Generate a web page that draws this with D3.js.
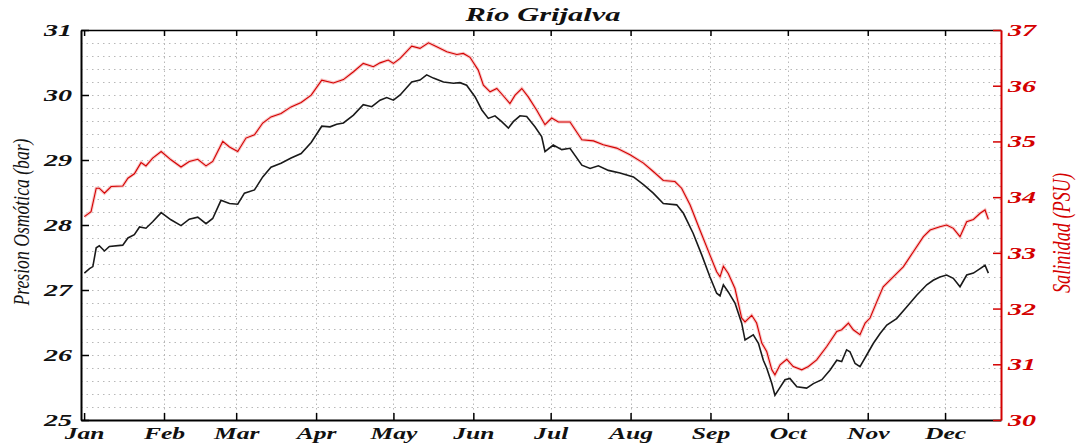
<!DOCTYPE html>
<html lang="en">
<head>
<meta charset="utf-8">
<title>Río Grijalva</title>
<script src="https://d3js.org/d3.v7.min.js"></script>
<style>
  body { margin: 0; background: #fff; }
  svg { display: block; background: #fff; }
  text { font-family: "Liberation Serif", "DejaVu Serif", serif; }
  .lbl { font-weight: bold; font-style: italic; }
</style>
</head>
<body>
<script>
// month ticks (day of year) and labels
var months = ["Jan","Feb","Mar","Apr","May","Jun","Jul","Aug","Sep","Oct","Nov","Dec"];
var monthDays = [0,31,59,90,120,151,181,212,243,273,304,334];
var leftTicks = [25,26,27,28,29,30,31];
var rightTicks = [30,31,32,33,34,35,36,37];

// osmotic pressure (bar)
var osmoDay = [0.1,2.1,3.4,4.7,5.9,7.9,9.8,15.0,17.0,19.5,21.5,24.0,26.6,29.9,33.7,37.6,40.8,44.1,47.3,49.9,53.1,56.4,59.6,62.2,66.1,69.3,72.5,76.4,80.3,84.2,88.1,92.2,95.4,98.0,100.6,104.5,108.3,111.6,114.8,117.4,120.0,122.6,127.1,130.3,132.9,135.5,139.4,143.3,145.8,148.4,151.7,154.3,156.8,159.4,162.0,164.6,166.5,169.1,171.7,174.9,177.5,178.8,182.0,185.3,188.5,193.1,196.3,199.5,203.4,207.9,213.1,217.0,220.8,224.7,229.9,232.5,236.3,239.6,242.8,245.4,246.7,248.0,249.9,252.5,255.1,256.4,259.6,261.6,263.5,264.8,266.8,268.0,269.3,271.9,273.8,276.5,280.3,282.9,286.2,289.4,292.0,293.9,295.8,297.1,299.1,301.0,303.6,306.2,308.8,311.4,315.2,319.1,323.0,326.9,329.4,332.0,334.6,337.2,339.8,342.4,345.0,347.6,349.5,350.8];
var osmoVal = [27.26,27.33,27.36,27.65,27.68,27.60,27.67,27.69,27.80,27.85,27.97,27.95,28.05,28.19,28.08,27.99,28.09,28.12,28.02,28.10,28.38,28.33,28.32,28.49,28.54,28.74,28.89,28.95,29.03,29.10,29.27,29.52,29.51,29.55,29.57,29.69,29.85,29.82,29.92,29.96,29.92,30.00,30.20,30.23,30.31,30.26,30.20,30.18,30.19,30.15,29.97,29.77,29.64,29.68,29.59,29.49,29.59,29.68,29.67,29.51,29.36,29.13,29.23,29.16,29.18,28.92,28.87,28.91,28.84,28.80,28.74,28.62,28.49,28.33,28.31,28.18,27.87,27.54,27.20,26.95,26.91,27.08,26.97,26.80,26.49,26.23,26.31,26.18,25.92,25.80,25.56,25.38,25.46,25.62,25.64,25.51,25.49,25.56,25.62,25.77,25.92,25.90,26.08,26.05,25.87,25.82,26.00,26.18,26.33,26.46,26.56,26.74,26.92,27.08,27.15,27.20,27.23,27.18,27.05,27.23,27.26,27.33,27.38,27.26];

// salinity (PSU)
var salDay = [0.1,2.7,4.7,5.9,7.9,10.5,15.0,17.0,19.5,22.1,24.0,26.6,29.9,33.7,37.6,40.8,44.1,47.3,49.9,53.8,56.4,59.6,62.8,66.1,69.3,72.5,76.4,80.3,84.2,88.1,92.2,96.7,100.6,104.5,108.3,112.2,114.8,118.0,120.0,122.6,127.1,130.3,133.6,136.8,140.7,144.6,147.1,149.7,152.9,154.9,157.5,160.1,162.6,165.2,167.2,169.8,172.3,175.6,178.8,181.4,184.0,188.5,193.1,197.6,201.4,206.6,211.8,217.0,220.8,224.7,229.2,231.8,235.1,238.9,242.8,245.4,246.7,248.0,249.9,252.5,255.1,256.4,259.0,260.9,262.9,264.8,266.8,268.0,270.0,272.6,275.1,278.4,281.0,284.2,288.1,292.0,293.9,296.5,298.4,301.0,303.0,304.9,307.5,310.0,313.9,317.8,321.7,325.6,328.2,332.0,334.6,337.2,339.8,342.4,345.0,347.6,349.5,350.8];
var salVal = [33.65,33.74,34.16,34.16,34.07,34.19,34.20,34.34,34.42,34.62,34.56,34.70,34.82,34.67,34.54,34.64,34.68,34.56,34.64,35.00,34.90,34.82,35.06,35.12,35.33,35.44,35.50,35.62,35.70,35.83,36.10,36.05,36.11,36.25,36.40,36.34,36.41,36.46,36.40,36.49,36.71,36.67,36.77,36.70,36.61,36.56,36.58,36.51,36.28,36.01,35.89,35.95,35.82,35.68,35.83,35.95,35.80,35.56,35.30,35.42,35.35,35.35,35.03,35.01,34.94,34.88,34.76,34.61,34.46,34.30,34.28,34.16,33.86,33.41,32.96,32.66,32.57,32.76,32.63,32.36,31.83,31.76,31.88,31.74,31.38,31.23,30.90,30.81,30.99,31.09,30.96,30.90,30.96,31.08,31.32,31.59,31.62,31.74,31.62,31.53,31.74,31.83,32.12,32.39,32.57,32.75,33.02,33.29,33.41,33.47,33.50,33.44,33.29,33.56,33.60,33.71,33.77,33.60];

var width = 1078, height = 443;
var plotLeft = 81, plotRight = 1001, plotTop = 30, plotBottom = 420;
var red = "#d40000";

var svg = d3.select("body").append("svg")
    .attr("width", width)
    .attr("height", height);

// the source picture is stretched sideways, so widen the labels the same way
function widen(sel, k) {
    sel.each(function() {
        var len = this.getComputedTextLength();
        d3.select(this).attr("textLength", len * k).attr("lengthAdjust", "spacingAndGlyphs");
    });
}

var x = d3.scaleLinear().domain([-1.2, 355.7]).range([plotLeft, plotRight]);
var yL = d3.scaleLinear().domain([25, 31]).range([plotBottom, plotTop]);
var yR = d3.scaleLinear().domain([30, 37]).range([plotBottom, plotTop]);

// dotted grid
var minor = d3.range(25, 31.001, 0.2);
svg.append("g").selectAll("line")
    .data(minor.slice(1, -1))
    .enter().append("line")
    .attr("x1", plotLeft).attr("x2", plotRight)
    .attr("y1", function(d) { return Math.round(yL(d)) + 0.5; })
    .attr("y2", function(d) { return Math.round(yL(d)) + 0.5; })
    .attr("stroke", "#b8b8b8")
    .attr("stroke-width", 1)
    .attr("stroke-dasharray", "1.5,4");

svg.append("g").selectAll("line")
    .data(monthDays.slice(1))
    .enter().append("line")
    .attr("y1", plotTop).attr("y2", plotBottom)
    .attr("x1", function(d) { return Math.round(x(d)) + 0.5; })
    .attr("x2", function(d) { return Math.round(x(d)) + 0.5; })
    .attr("stroke", "#b8b8b8")
    .attr("stroke-width", 1)
    .attr("stroke-dasharray", "1.5,3");

// axes
var xBottom = d3.axisBottom(x).tickValues(monthDays).tickFormat(function(d, i) { return months[i]; })
    .tickSizeInner(-7).tickSizeOuter(0).tickPadding(8);
var gx = svg.append("g").attr("transform", "translate(0," + plotBottom + ")").call(xBottom);
gx.select(".domain").attr("stroke-width", 2);
gx.selectAll(".tick line").attr("stroke-width", 1.5);
gx.selectAll("text").attr("class", "lbl").style("font-size", "16px").attr("fill", "#111").call(widen, 1.6);

var xTop = d3.axisTop(x).tickValues(monthDays).tickFormat("").tickSizeInner(-6).tickSizeOuter(0);
var gt = svg.append("g").attr("transform", "translate(0," + plotTop + ")").call(xTop);
gt.select(".domain").attr("stroke-width", 1.5);
gt.selectAll(".tick line").attr("stroke-width", 1.5);

var axL = d3.axisLeft(yL).tickValues(leftTicks).tickFormat(d3.format("d"))
    .tickSizeInner(-8).tickSizeOuter(0).tickPadding(9);
var gl = svg.append("g").attr("transform", "translate(" + plotLeft + ",0)").call(axL);
gl.select(".domain").attr("stroke-width", 2);
gl.selectAll(".tick line").attr("stroke-width", 1.5);
gl.selectAll("text").attr("class", "lbl").style("font-size", "17px").attr("fill", "#111").call(widen, 1.65);

var axR = d3.axisRight(yR).tickValues(rightTicks).tickFormat(d3.format("d"))
    .tickSizeInner(-8).tickSizeOuter(0).tickPadding(7);
var gr = svg.append("g").attr("transform", "translate(" + plotRight + ",0)").call(axR);
gr.select(".domain").attr("stroke", red).attr("stroke-width", 2);
gr.selectAll(".tick line").attr("stroke", red).attr("stroke-width", 1.5);
gr.selectAll("text").attr("class", "lbl").style("font-size", "17px").attr("fill", red).call(widen, 1.65);

// series
var osmo = osmoDay.map(function(d, i) { return [d, osmoVal[i]]; });
var sal = salDay.map(function(d, i) { return [d, salVal[i]]; });

var lineL = d3.line().x(function(d) { return x(d[0]); }).y(function(d) { return yL(d[1]); });
var lineR = d3.line().x(function(d) { return x(d[0]); }).y(function(d) { return yR(d[1]); });

svg.append("path").datum(sal).attr("d", lineR)
    .attr("fill", "none").attr("stroke", "#f8c8c8").attr("stroke-width", 3.2);
svg.append("path").datum(sal).attr("d", lineR)
    .attr("fill", "none").attr("stroke", red).attr("stroke-width", 1.1);
svg.append("path").datum(osmo).attr("d", lineL)
    .attr("fill", "none").attr("stroke", "#1a1a1a").attr("stroke-width", 1.6);

// titles
svg.append("text")
    .attr("class", "lbl")
    .attr("x", 543).attr("y", 21)
    .attr("text-anchor", "middle")
    .attr("textLength", 155)
    .attr("lengthAdjust", "spacingAndGlyphs")
    .style("font-size", "18px")
    .attr("fill", "#111")
    .text("Río Grijalva");

svg.append("text")
    .attr("transform", "translate(29,222) rotate(-90)")
    .attr("text-anchor", "middle")
    .attr("textLength", 167)
    .attr("lengthAdjust", "spacingAndGlyphs")
    .style("font-size", "23px")
    .style("font-style", "italic")
    .attr("fill", "#111")
    .text("Presion Osmótica (bar)");

svg.append("text")
    .attr("transform", "translate(1070,233) rotate(-90)")
    .attr("text-anchor", "middle")
    .attr("textLength", 120)
    .attr("lengthAdjust", "spacingAndGlyphs")
    .style("font-size", "25px")
    .style("font-style", "italic")
    .attr("fill", red)
    .text("Salinidad (PSU)");
</script>
</body>
</html>
